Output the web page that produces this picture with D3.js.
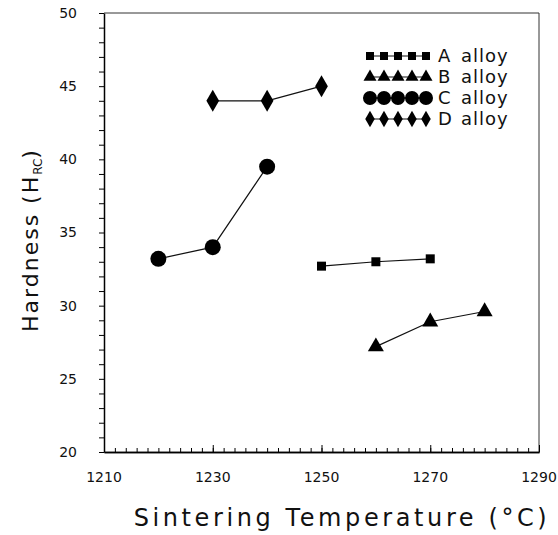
<!DOCTYPE html>
<html>
<head>
<meta charset="utf-8">
<script src="https://cdn.jsdelivr.net/npm/d3@7"></script>
<style>
  body { margin: 0; background: #fff; }
  text { font-family: "DejaVu Sans", sans-serif; fill: #111; }
</style>
</head>
<body>
<svg id="chart"></svg>
<script>
// data
const alloyNames = ["A", "B", "C", "D"];
const tempA = [1250, 1260, 1270];
const hardA = [32.7, 33.0, 33.2];
const tempB = [1260, 1270, 1280];
const hardB = [27.2, 28.9, 29.6];
const tempC = [1220, 1230, 1240];
const hardC = [33.2, 34.0, 39.5];
const tempD = [1230, 1240, 1250];
const hardD = [44.0, 44.0, 45.0];
const xTicks = [1210, 1230, 1250, 1270, 1290];
const yTicks = [20, 25, 30, 35, 40, 45, 50];

const width = 558, height = 535;
const margin = {top: 13, right: 19, bottom: 83, left: 104};
const innerW = width - margin.left - margin.right;
const innerH = height - margin.top - margin.bottom;

const svg = d3.select("#chart").attr("width", width).attr("height", height);
const chart = svg.append("g").attr("transform", `translate(${margin.left}, ${margin.top})`);

const x = d3.scaleLinear().domain([1210, 1290]).range([0, innerW]);
const y = d3.scaleLinear().domain([20, 50]).range([innerH, 0]);

// frame: top and right
chart.append("line").attr("x1", 0).attr("x2", innerW).attr("y1", 0).attr("y2", 0)
  .attr("stroke", "#333").attr("stroke-width", 1);
chart.append("line").attr("x1", innerW).attr("x2", innerW).attr("y1", 0).attr("y2", innerH)
  .attr("stroke", "#333").attr("stroke-width", 1);

// x axis: ticks point inward
const xMinor = d3.range(1210, 1291, 2);
const xAxisG = chart.append("g").attr("transform", `translate(0, ${innerH})`);
xAxisG.call(d3.axisTop(x).tickValues(xMinor).tickSize(4).tickFormat("").tickSizeOuter(0));
xAxisG.append("g").call(d3.axisTop(x).tickValues(xTicks).tickSize(7).tickFormat("").tickSizeOuter(0));
xAxisG.selectAll(".domain").attr("stroke-width", 1.5);
xAxisG.selectAll(".tick line").attr("stroke-width", 1);
xAxisG.selectAll(".xlab").data(xTicks).join("text")
  .attr("x", d => x(d)).attr("y", 30)
  .attr("text-anchor", "middle")
  .style("font-size", "14px")
  .text(d => d);

// y axis: ticks point outward
const yMinor = d3.range(20, 51, 1);
const yAxisG = chart.append("g");
yAxisG.call(d3.axisLeft(y).tickValues(yMinor).tickSize(5).tickFormat("").tickSizeOuter(0));
yAxisG.selectAll(".domain").attr("stroke-width", 1.5);
yAxisG.selectAll(".tick line").attr("stroke-width", 1);
yAxisG.selectAll(".ylab").data(yTicks).join("text")
  .attr("x", -27).attr("y", d => y(d)).attr("dy", "0.35em")
  .attr("text-anchor", "end")
  .style("font-size", "14px")
  .text(d => d);

// axis titles
svg.append("text")
  .attr("x", 342).attr("y", 526)
  .attr("text-anchor", "middle")
  .style("font-size", "24px").style("letter-spacing", "3.6px")
  .text("Sintering Temperature (°C)");

const yTitle = svg.append("text")
  .attr("transform", "translate(38, 240) rotate(-90)")
  .attr("text-anchor", "middle")
  .style("font-size", "22px").style("letter-spacing", "2px");
yTitle.append("tspan").text("Hardness  (H");
yTitle.append("tspan").attr("dy", 4).style("font-size", "12px").style("letter-spacing", "0px").text("RC");
yTitle.append("tspan").attr("dy", -4).text(")");

// series
const series = [
  {name: alloyNames[0], t: tempA, h: hardA, sym: d3.symbolSquare, size: 81, lsize: 64},
  {name: alloyNames[1], t: tempB, h: hardB, sym: d3.symbolTriangle, size: 111, lsize: 73},
  {name: alloyNames[2], t: tempC, h: hardC, sym: d3.symbolCircle, size: 201, lsize: 154},
  {name: alloyNames[3], t: tempD, h: hardD, sym: d3.symbolDiamond, size: 140, lsize: 78}
];

const line = d3.line().x(d => x(d[0])).y(d => y(d[1]));

series.forEach(s => {
  const pts = s.t.map((t, i) => [t, s.h[i]]);
  chart.append("path").datum(pts)
    .attr("d", line)
    .attr("fill", "none").attr("stroke", "#111").attr("stroke-width", 1.2);
  chart.selectAll(null).data(pts).join("path")
    .attr("transform", d => `translate(${x(d[0])}, ${y(d[1])})`)
    .attr("d", d3.symbol().type(s.sym).size(s.size))
    .attr("fill", "#000");
});

// legend
const legend = svg.append("g").attr("transform", "translate(370, 56)");
series.forEach((s, i) => {
  const row = legend.append("g").attr("transform", `translate(0, ${i * 21})`);
  row.append("line").attr("x1", 0).attr("x2", 56).attr("stroke", "#111").attr("stroke-width", 1.2);
  row.selectAll("path").data(d3.range(5)).join("path")
    .attr("transform", k => `translate(${k * 14}, 0)`)
    .attr("d", d3.symbol().type(s.sym).size(s.lsize))
    .attr("fill", "#000");
  row.append("text").attr("x", 68).attr("dy", "0.36em")
    .style("font-size", "18px").text(s.name);
  row.append("text").attr("x", 91).attr("dy", "0.36em")
    .style("font-size", "18px").style("letter-spacing", "1px").text("alloy");
});
</script>
</body>
</html>
